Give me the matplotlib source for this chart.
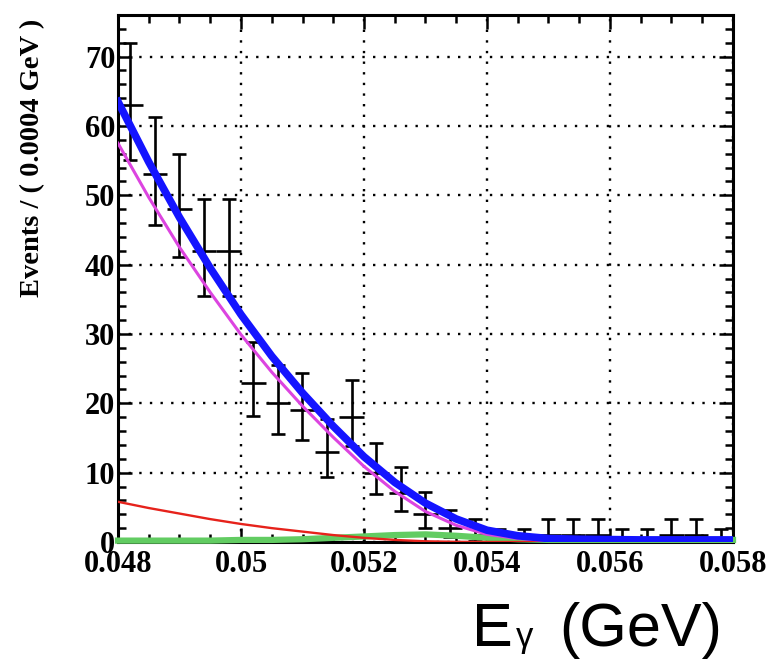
import numpy as np
import matplotlib
matplotlib.use('Agg')
import matplotlib.pyplot as plt
from matplotlib.ticker import MultipleLocator

# photon energy binning of the data histogram (0.0004 GeV bins)
bin_centers = 0.0482 + 0.0004 * np.arange(25)
counts = np.array([63, 53, 48, 42, 42, 23, 20, 19, 13, 18, 10, 7, 4,
                   2, 1, 0, 0, 1, 1, 1, 0, 0, 1, 1, 0])

# fit components sampled every 0.0005 GeV
e_grid = np.array([0.0480, 0.0485, 0.0490, 0.0495, 0.0500, 0.0505, 0.0510,
                   0.0515, 0.0520, 0.0525, 0.0530, 0.0535, 0.0540, 0.0545,
                   0.0550, 0.0555, 0.0560, 0.0565, 0.0570, 0.0575, 0.0580])
signal = np.array([57.5, 49.7, 42.5, 36.0, 29.9, 24.5, 19.6, 15.1, 10.9, 7.3,
                   4.4, 2.4, 1.1, 0.5, 0.2, 0.1, 0.05, 0.0, 0.0, 0.0, 0.0])
bkg_red = np.array([5.8, 4.9, 4.1, 3.3, 2.6, 2.0, 1.5, 1.0, 0.6, 0.3,
                    0.1, 0.02, 0.0, 0.0, 0.0, 0.0, 0.0, 0.0, 0.0, 0.0, 0.0])
bkg_green = np.array([0.2, 0.2, 0.2, 0.2, 0.3, 0.3, 0.4, 0.6, 0.8, 1.0,
                      1.1, 0.9, 0.6, 0.4, 0.3, 0.3, 0.3, 0.3, 0.3, 0.3, 0.3])
total = signal + bkg_red + bkg_green

xtick_vals = [0.048, 0.050, 0.052, 0.054, 0.056, 0.058]
xtick_labels = ['0.048', '0.05', '0.052', '0.054', '0.056', '0.058']
ytick_vals = [0, 10, 20, 30, 40, 50, 60, 70]
ytick_labels = ['0', '10', '20', '30', '40', '50', '60', '70']

# asymmetric Poisson errors (Wilson-Hilferty approximation)
n = counts.astype(float)
lo = np.zeros_like(n)
nz = n > 0
lo[nz] = n[nz] - n[nz] * (1 - 1 / (9 * n[nz]) - 1 / (3 * np.sqrt(n[nz]))) ** 3
hi = (n + 1) * (1 - 1 / (9 * (n + 1)) + 1 / (3 * np.sqrt(n + 1))) ** 3 - n

fig = plt.figure(figsize=(7.7, 6.6), dpi=100)
ax = fig.add_axes([118 / 770, 118 / 660, 615 / 770, 527 / 660])

ax.grid(True, which='major', color='black', linestyle=(0, (1, 3.5)), linewidth=1.7, zorder=0)

ax.errorbar(bin_centers, counts, yerr=[lo, hi], fmt='none', ecolor='black',
            elinewidth=1.9, capsize=5, capthick=1.9, zorder=2)
ax.errorbar(bin_centers[nz], counts[nz], xerr=0.0002, fmt='none', ecolor='black',
            elinewidth=1.9, capsize=0, zorder=2)

ax.plot(e_grid, bkg_green, color='#62cc62', lw=4.5, zorder=3, clip_on=False)
ax.plot(e_grid, bkg_red, color='#e6221b', lw=1.7, zorder=3)
ax.plot(e_grid, signal, color='#dc44e0', lw=2.2, zorder=4)
ax.plot(e_grid, total, color='#1414ff', lw=5.5, zorder=5)

ax.set_xlim(0.048, 0.058)
ax.set_ylim(0, 76)
ax.set_xticks(xtick_vals, xtick_labels)
ax.set_yticks(ytick_vals, ytick_labels)
ax.xaxis.set_minor_locator(MultipleLocator(0.0005))
ax.yaxis.set_minor_locator(MultipleLocator(2))
ax.tick_params(which='both', direction='in', top=True, right=True, width=1.8)
ax.tick_params(which='major', length=10)
ax.tick_params(which='minor', length=6)
ax.tick_params(axis='x', pad=6)
ax.tick_params(axis='y', pad=2)
for lab in ax.get_xticklabels() + ax.get_yticklabels():
    lab.set_fontfamily('Liberation Serif')
    lab.set_fontweight('bold')
    lab.set_fontsize(22)
for sp in ax.spines.values():
    sp.set_linewidth(2.2)

fig.text(33 / 770, 1 - 158 / 660, 'Events / ( 0.0004 GeV )', rotation=90,
         fontfamily='Liberation Serif', fontweight='bold', fontsize=20.5,
         ha='center', va='center')

# x-axis title with a small gamma after the E
fig.text(472 / 770, 14 / 660, 'E', fontfamily='Liberation Sans', fontsize=44,
         ha='left', va='baseline')
fig.text(516 / 770, 13 / 660, 'γ', fontfamily='Liberation Sans', fontsize=25,
         ha='left', va='baseline')
fig.text(559 / 770, 14 / 660, '(GeV)', fontfamily='Liberation Sans', fontsize=44,
         ha='left', va='baseline')

fig.savefig('out.png', dpi=100)
